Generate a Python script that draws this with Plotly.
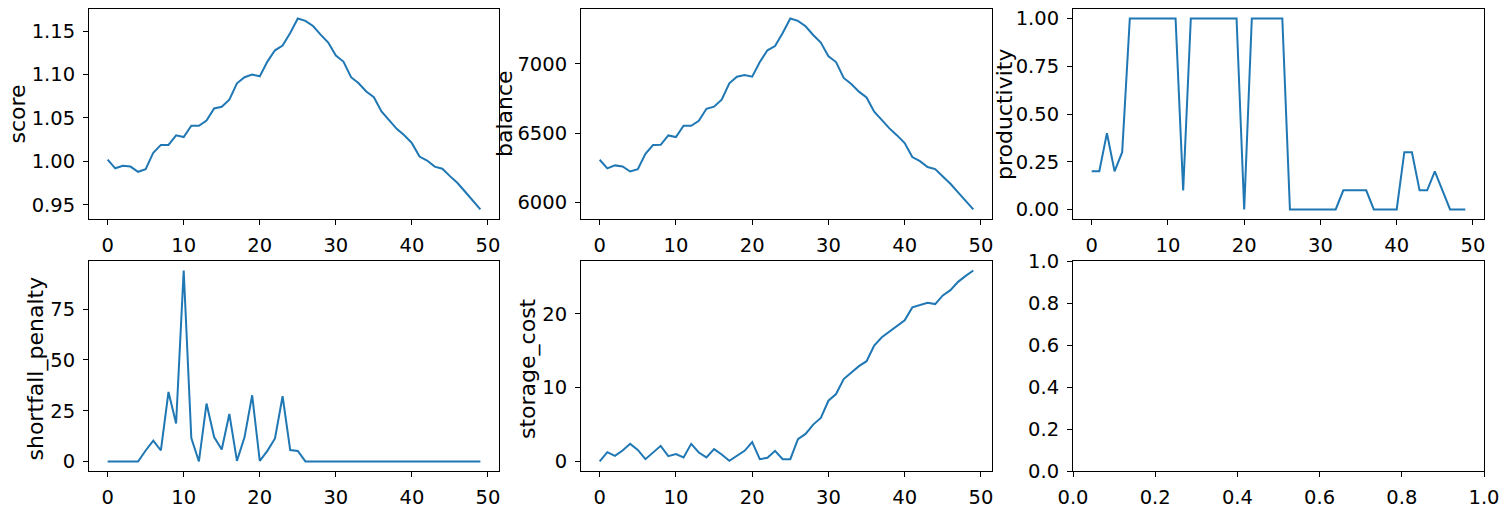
import plotly.graph_objects as go
from plotly.subplots import make_subplots

steps = list(range(50))

score = [1.002, 0.992, 0.995, 0.994, 0.988, 0.991, 1.010, 1.019, 1.019, 1.030,
         1.028, 1.041, 1.041, 1.047, 1.061, 1.063, 1.071, 1.090, 1.097, 1.100,
         1.098, 1.115, 1.128, 1.1335, 1.148, 1.1646, 1.162, 1.156, 1.146, 1.137,
         1.122, 1.115, 1.097, 1.090, 1.0805, 1.074, 1.0575, 1.0475, 1.0375, 1.030,
         1.021, 1.0055, 1.001, 0.994, 0.9915, 0.983, 0.975, 0.965, 0.9546, 0.9446]

balance = [6307, 6244, 6266, 6258, 6222, 6239, 6350, 6413, 6415, 6483,
           6471, 6553, 6553, 6589, 6676, 6691, 6742, 6860, 6908, 6920,
           6908, 7014, 7099, 7130, 7225, 7329, 7312, 7273, 7210, 7155,
           7056, 7014, 6899, 6855, 6800, 6758, 6654, 6594, 6534, 6483,
           6428, 6326, 6297, 6254, 6239, 6186, 6133, 6070, 6007, 5947]

productivity = [0.2, 0.2, 0.4, 0.2, 0.3, 1, 1, 1, 1, 1,
                1, 1, 0.1, 1, 1, 1, 1, 1, 1, 1,
                0, 1, 1, 1, 1, 1, 0, 0, 0, 0,
                0, 0, 0, 0.1, 0.1, 0.1, 0.1, 0, 0, 0,
                0, 0.3, 0.3, 0.1, 0.1, 0.2, 0.1, 0, 0, 0]

shortfall_penalty = [0, 0, 0, 0, 0, 5.4, 10.3, 5.4, 34.2, 18.7,
                     94.0, 11.5, 0, 28.5, 12.0, 5.9, 23.4, 0.3, 12.0, 32.6,
                     0.3, 5.2, 11.3, 32.1, 5.6, 5.2, 0, 0, 0, 0,
                     0, 0, 0, 0, 0, 0, 0, 0, 0, 0,
                     0, 0, 0, 0, 0, 0, 0, 0, 0, 0]

storage_cost = [0, 1.26, 0.76, 1.48, 2.38, 1.57, 0.31, 1.17, 2.11, 0.72,
                0.99, 0.54, 2.38, 1.21, 0.54, 1.66, 0.94, 0.09, 0.76, 1.44,
                2.61, 0.31, 0.49, 1.44, 0.31, 0.31, 3.01, 3.73, 4.99, 5.89,
                8.22, 9.12, 11.15, 11.96, 12.9, 13.57, 15.69, 16.81, 17.57, 18.34,
                19.1, 20.85, 21.17, 21.48, 21.3, 22.47, 23.19, 24.31, 25.12, 25.84]

panels = [
    ("score", score, [0.95, 1.00, 1.05, 1.10, 1.15], ".2f"),
    ("balance", balance, [6000, 6500, 7000], "d"),
    ("productivity", productivity, [0, 0.25, 0.5, 0.75, 1.0], ".2f"),
    ("shortfall_penalty", shortfall_penalty, [0, 25, 50, 75], "d"),
    ("storage_cost", storage_cost, [0, 10, 20], "d"),
]
x_ticks = [0, 10, 20, 30, 40, 50]
empty_ticks = [0.0, 0.2, 0.4, 0.6, 0.8, 1.0]

W, H = 1509, 510
col_px = [(89, 499), (581, 992), (1073, 1484)]
row_px = [(9, 219), (261, 471)]
label_x_px = [[17.5, 505, 1005], [35.5, 528, None]]
label_y_px = [114, 369]

fig = make_subplots(rows=2, cols=3)
color = "#1f77b4"
tick_font = dict(family="DejaVu Sans", size=19.5, color="black")
label_font = dict(family="DejaVu Sans", size=22, color="black")


def pad(vals):
    lo, hi = min(vals), max(vals)
    m = (hi - lo) * 0.05
    return [lo - m, hi + m]


annotations = []
for k in range(6):
    r, c = divmod(k, 3)
    idx = k + 1
    xa = "xaxis" if idx == 1 else f"xaxis{idx}"
    ya = "yaxis" if idx == 1 else f"yaxis{idx}"
    x0, x1 = col_px[c]
    y0, y1 = row_px[r]
    common = dict(showline=True, linecolor="black", linewidth=1, mirror=True,
                  ticks="outside", ticklen=5, tickwidth=1, tickcolor="black",
                  showgrid=False, zeroline=False, tickfont=tick_font, automargin=False,
                  ticklabelstandoff=4)
    if k < 5:
        name, vals, yt, fmt = panels[k]
        fig.add_trace(go.Scatter(x=steps, y=vals, mode="lines",
                                 line=dict(color=color, width=2), showlegend=False),
                      row=r + 1, col=c + 1)
        xr = pad(steps)
        yr = pad(vals)
        fig.layout[xa].update(domain=[x0 / W, x1 / W], range=xr, tickvals=x_ticks, **common)
        fig.layout[ya].update(domain=[1 - y1 / H, 1 - y0 / H], range=yr, tickvals=yt,
                              tickformat=fmt, **common)
        annotations.append(dict(text=name, xref="paper", yref="paper",
                                x=label_x_px[r][c] / W, y=1 - label_y_px[r] / H,
                                xanchor="center", yanchor="middle", textangle=-90,
                                showarrow=False, font=label_font))
    else:
        fig.add_trace(go.Scatter(x=[], y=[], mode="lines", showlegend=False,
                                 hoverinfo="skip"),
                      row=r + 1, col=c + 1)
        fig.layout[xa].update(domain=[x0 / W, x1 / W], range=[0, 1], tickvals=empty_ticks,
                              tickformat=".1f", **common)
        fig.layout[ya].update(domain=[1 - y1 / H, 1 - y0 / H], range=[0, 1], tickvals=empty_ticks,
                              tickformat=".1f", **common)

fig.update_layout(template="none", width=W, height=H, margin=dict(l=0, r=0, t=0, b=0),
                  plot_bgcolor="white", paper_bgcolor="white",
                  font=tick_font, annotations=annotations)

fig.write_html("out.html")
